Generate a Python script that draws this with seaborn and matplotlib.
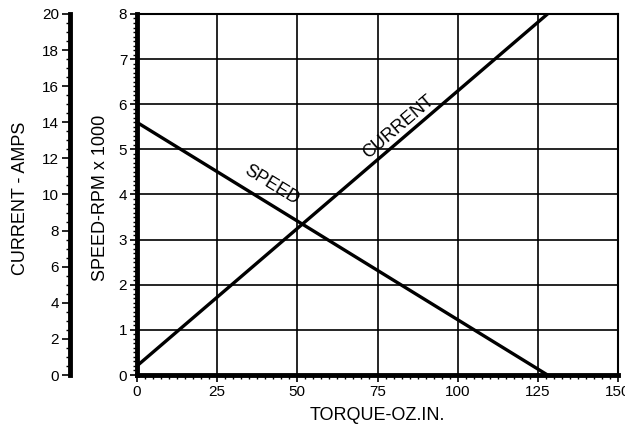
import matplotlib
matplotlib.use('Agg')
import matplotlib.pyplot as plt
from matplotlib.ticker import MultipleLocator
import seaborn as sns

sns.set_theme(style='white')
plt.rcParams['font.family'] = ['Liberation Sans', 'DejaVu Sans']
plt.rcParams['text.color'] = 'black'
plt.rcParams['axes.labelcolor'] = 'black'
plt.rcParams['xtick.color'] = 'black'
plt.rcParams['ytick.color'] = 'black'

# motor curve data
torque = [0, 128]          # oz.in.
speed = [5.6, 0.0]         # rpm x 1000
current = [0.5, 20.0]      # amps

fig = plt.figure(figsize=(6.25, 4.26), dpi=100)
ax = fig.add_axes([0.219, 0.1197, 0.77, 0.8475])

sns.lineplot(x=torque, y=speed, ax=ax, color='black', lw=2.4)
ax.set_xlim(0, 150)
ax.set_ylim(0, 8)
ax.xaxis.set_major_locator(MultipleLocator(25))
ax.xaxis.set_minor_locator(MultipleLocator(2.5))
ax.yaxis.set_major_locator(MultipleLocator(1))
ax.yaxis.set_minor_locator(MultipleLocator(0.1))
ax.grid(True, which='major', color='black', lw=1.2)
ax.set_axisbelow(True)
for s in ['left', 'bottom']:
    ax.spines[s].set_linewidth(3.5)
for s in ['top', 'right']:
    ax.spines[s].set_linewidth(1.5)
for s in ax.spines.values():
    s.set_color('black')
ax.tick_params(axis='both', which='major', direction='out', length=5, width=1.2,
               labelsize=11, pad=2, bottom=True, left=True)
ax.tick_params(axis='both', which='minor', direction='out', length=3, width=1,
               bottom=True, left=True)
ax.set_xlabel('TORQUE-OZ.IN.', fontsize=13, labelpad=6)
ax.set_ylabel('SPEED-RPM x 1000', fontsize=13)
ax.yaxis.set_label_coords(-0.058, 0.49)

# current axis, drawn as a separate spine at the far left
ax2 = ax.twinx()
sns.lineplot(x=torque, y=current, ax=ax2, color='black', lw=2.4)
ax2.set_ylim(0, 20)
ax2.yaxis.set_ticks_position('left')
ax2.yaxis.set_label_position('left')
ax2.spines['left'].set_position(('outward', 48))
ax2.spines['left'].set_linewidth(3.5)
ax2.spines['left'].set_color('black')
for s in ['top', 'right', 'bottom']:
    ax2.spines[s].set_visible(False)
ax2.yaxis.set_major_locator(MultipleLocator(2))
ax2.yaxis.set_minor_locator(MultipleLocator(0.5))
ax2.tick_params(axis='y', which='major', direction='out', length=6, width=1.2,
                labelsize=11, pad=2, left=True, right=False)
ax2.tick_params(axis='y', which='minor', direction='out', length=3, width=1,
                left=True, right=False)
ax2.set_ylabel('CURRENT - AMPS', fontsize=13)
ax2.yaxis.set_label_coords(-0.225, 0.49)

ax.text(42, 4.2, 'SPEED', rotation=-31.5, fontsize=13, ha='center', va='center')
ax.text(81.5, 5.5, 'CURRENT', rotation=40.5, fontsize=13, ha='center', va='center')

fig.savefig('out.png', dpi=100)
